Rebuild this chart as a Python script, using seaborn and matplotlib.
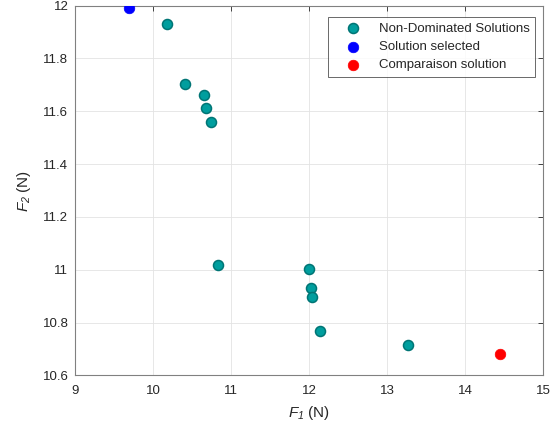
import numpy as np
import pandas as pd
import matplotlib
matplotlib.use("Agg")
import matplotlib.pyplot as plt
import seaborn as sns

# Pareto front values
f1_front = [10.18, 10.40, 10.655, 10.68, 10.74, 10.83, 12.00, 12.025, 12.03, 12.14, 13.26]
f2_front = [11.932, 11.705, 11.662, 11.614, 11.56, 11.018, 11.002, 10.93, 10.895, 10.767, 10.715]

f1_selected = [9.69]
f2_selected = [11.99]

f1_compare = [14.44]
f2_compare = [10.68]

x_ticks = [9, 10, 11, 12, 13, 14, 15]
y_ticks = [10.6, 10.8, 11, 11.2, 11.4, 11.6, 11.8, 12]
y_ticklabels = ["10.6", "10.8", "11", "11.2", "11.4", "11.6", "11.8", "12"]

sns.set_style("white")
plt.rcParams['font.family'] = ['Liberation Sans', 'DejaVu Sans']
plt.rcParams['mathtext.fontset'] = 'custom'
plt.rcParams['mathtext.it'] = 'Liberation Sans:italic'
plt.rcParams['mathtext.rm'] = 'Liberation Sans:italic'
plt.rcParams['mathtext.sf'] = 'Liberation Sans:italic'

front = pd.DataFrame({'F1': f1_front, 'F2': f2_front})
sel = pd.DataFrame({'F1': f1_selected, 'F2': f2_selected})
comp = pd.DataFrame({'F1': f1_compare, 'F2': f2_compare})

fig = plt.figure(figsize=(5.5, 4.3), dpi=100)
ax = fig.add_axes([0.137, 0.127, 0.851, 0.86])

sns.scatterplot(data=front, x='F1', y='F2', ax=ax, s=52, color='#009E9E',
                edgecolor='#007575', linewidth=1.1, label='Non-Dominated Solutions', zorder=3)
sns.scatterplot(data=sel, x='F1', y='F2', ax=ax, s=58, color='#0000FF',
                edgecolor='#0000FF', linewidth=0.5, label='Solution selected', zorder=3)
sns.scatterplot(data=comp, x='F1', y='F2', ax=ax, s=58, color='#FF0000',
                edgecolor='#FF0000', linewidth=0.5, label='Comparaison solution', zorder=3)

ax.set_xlim(9, 15)
ax.set_ylim(10.6, 12)
ax.set_xticks(x_ticks)
ax.set_yticks(y_ticks)
ax.set_yticklabels(y_ticklabels)
ax.grid(True, color='#E3E3E3', linewidth=0.6)
ax.set_axisbelow(True)
ax.tick_params(direction='in', length=3.5, width=0.6, top=True, right=True,
               labelsize=9.5, colors='#262626')
ax.tick_params(axis='x', pad=7)
ax.tick_params(axis='y', pad=5)
for sp in ax.spines.values():
    sp.set_color('#808080')
    sp.set_linewidth(0.8)

# italic F with italic subscript, upright "(N)"
ax.set_xlabel(r'$F_{1}$' + ' (N)', fontsize=11, color='#262626', labelpad=5)
ax.set_ylabel(r'$F_{2}$' + ' (N)', fontsize=11, color='#262626', labelpad=7)

leg = ax.legend(loc='upper right', bbox_to_anchor=(0.983, 0.968), fontsize=9.5,
                frameon=True, fancybox=False, edgecolor='#262626',
                handlelength=3.0, handletextpad=0.5, borderpad=0.4,
                labelspacing=0.45, borderaxespad=0)
leg.get_frame().set_linewidth(0.6)

fig.savefig('out.png', dpi=100)
